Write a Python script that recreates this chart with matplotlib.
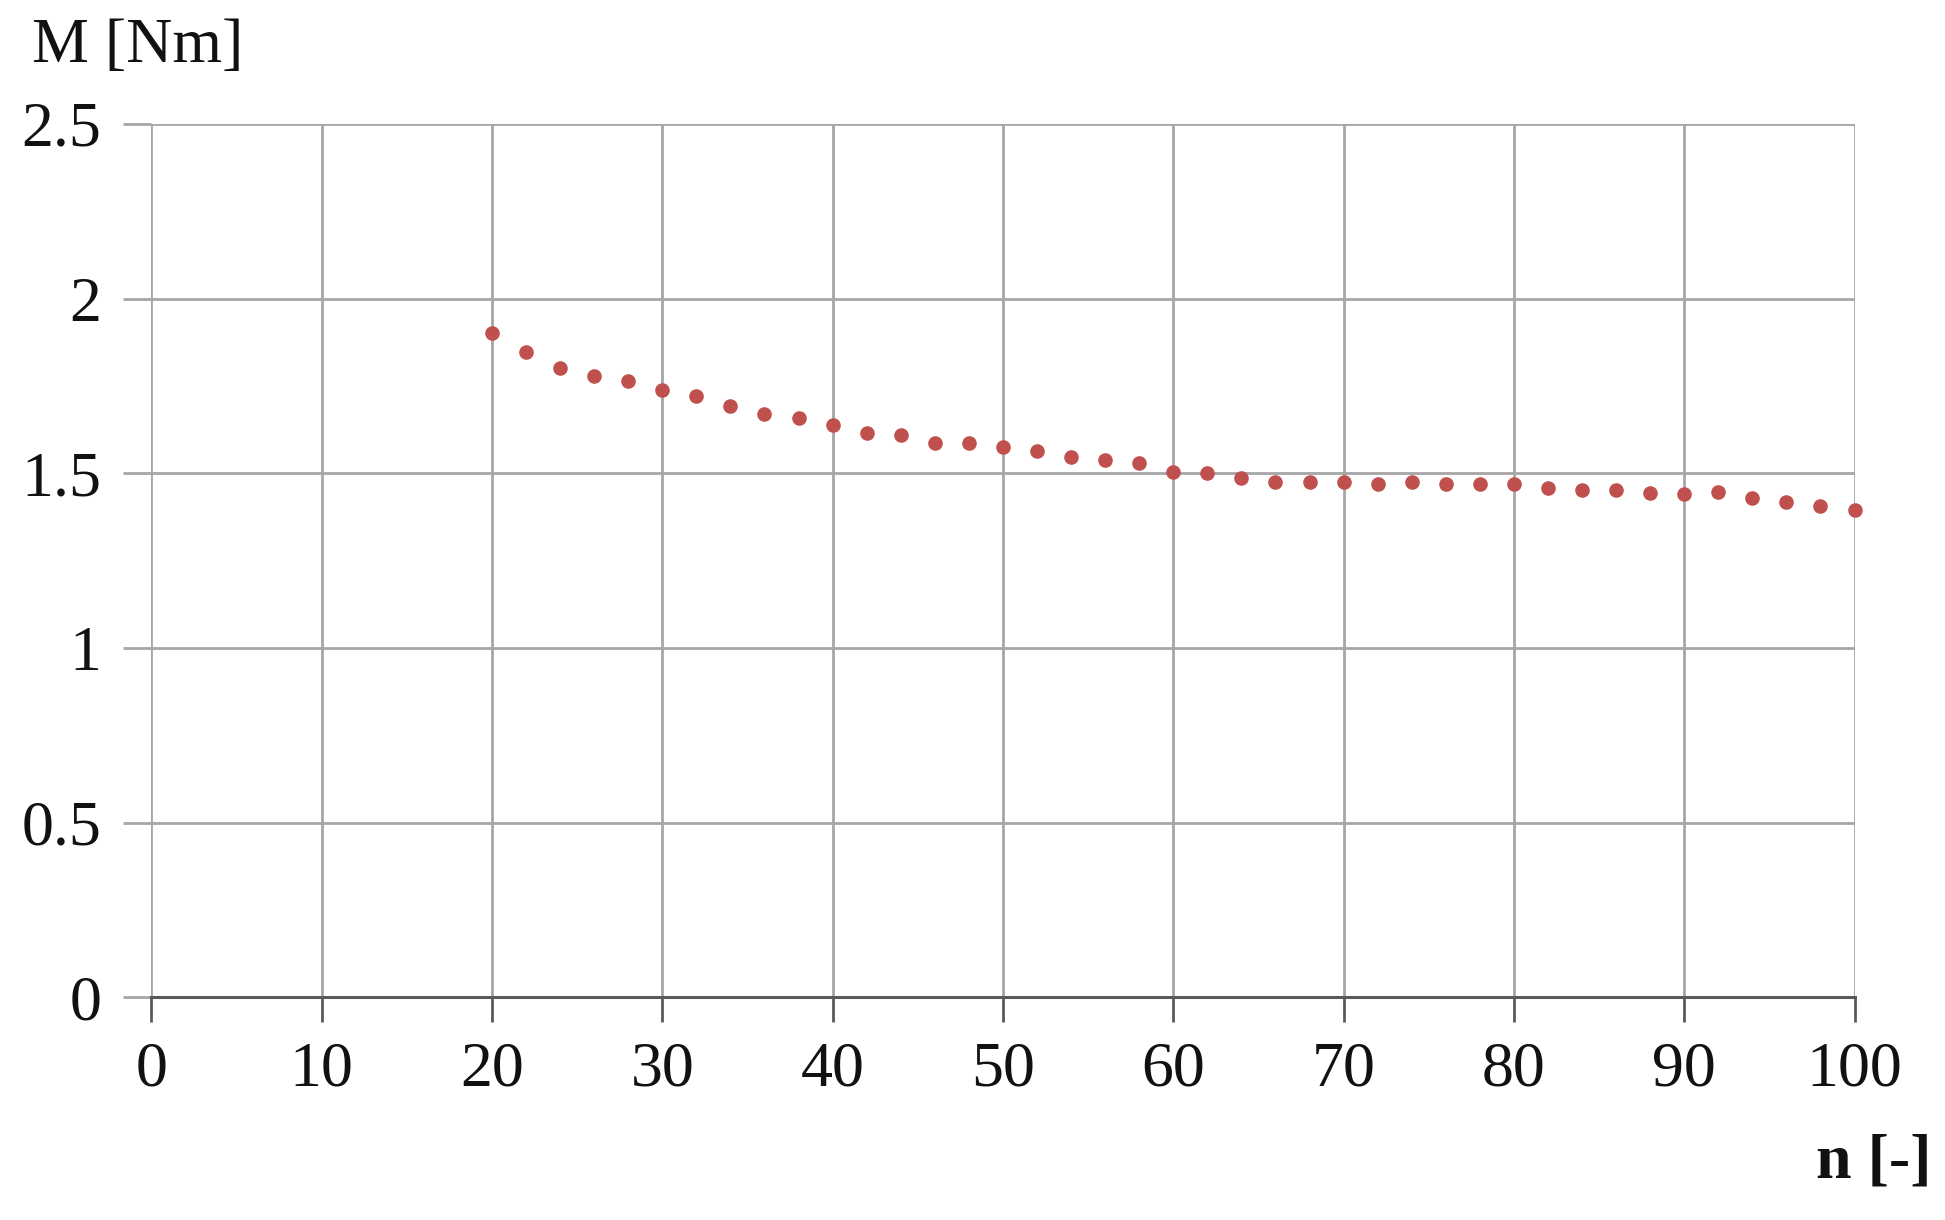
import matplotlib
matplotlib.use("Agg")
import matplotlib.pyplot as plt

n_values = [20, 22, 24, 26, 28, 30, 32, 34, 36, 38, 40, 42, 44, 46, 48, 50,
            52, 54, 56, 58, 60, 62, 64, 66, 68, 70, 72, 74, 76, 78, 80, 82,
            84, 86, 88, 90, 92, 94, 96, 98, 100]
M_values = [1.901, 1.848, 1.802, 1.778, 1.764, 1.738, 1.721, 1.692, 1.669, 1.657,
            1.639, 1.616, 1.610, 1.586, 1.586, 1.575, 1.563, 1.546, 1.539, 1.529,
            1.505, 1.500, 1.487, 1.474, 1.476, 1.474, 1.469, 1.475, 1.469, 1.469,
            1.469, 1.457, 1.452, 1.452, 1.445, 1.441, 1.447, 1.429, 1.418, 1.407,
            1.395]
x_ticks = [0, 10, 20, 30, 40, 50, 60, 70, 80, 90, 100]
y_ticks = [0, 0.5, 1, 1.5, 2, 2.5]
y_tick_labels = ["0", "0.5", "1", "1.5", "2", "2.5"]

plt.rcParams['font.family'] = ['Liberation Serif', 'DejaVu Serif']

fig = plt.figure(figsize=(19.45, 12.2), dpi=100)
ax = fig.add_axes([0.0778, 0.1825, 0.9535 - 0.0778, 0.8984 - 0.1825])

ax.plot(n_values, M_values, linestyle='none', marker='o', markersize=10.5,
        color='#C0504D', markeredgewidth=0, zorder=3, clip_on=False)

ax.set_xlim(0, 100)
ax.set_ylim(0, 2.5)
ax.set_xticks(x_ticks)
ax.set_xticklabels([str(t) for t in x_ticks])
ax.set_yticks(y_ticks)
ax.set_yticklabels(y_tick_labels)

ax.grid(True, color='#A6A6A6', linewidth=2.0)
ax.set_axisbelow(True)

for s in ['top', 'right', 'left']:
    ax.spines[s].set_visible(False)
ax.spines['bottom'].set_color('#5A5A5A')
ax.spines['bottom'].set_linewidth(2.2)

ax.tick_params(axis='x', direction='out', length=18, width=2, color='#5A5A5A',
               labelsize=46, pad=14, labelcolor='#111111')
ax.tick_params(axis='y', direction='out', length=20, width=2, color='#A6A6A6',
               labelsize=46, pad=16, labelcolor='#111111')

fig.text(32 / 1945, 1 - 47 / 1220, "M [Nm]", fontsize=46, ha='left', va='center',
         color='#111111')
fig.text(1932 / 1945, 1 - 1163 / 1220, "n [-]", fontsize=46, ha='right', va='center',
         color='#111111', fontweight='bold')

fig.savefig("out.png", dpi=100, facecolor='white')
